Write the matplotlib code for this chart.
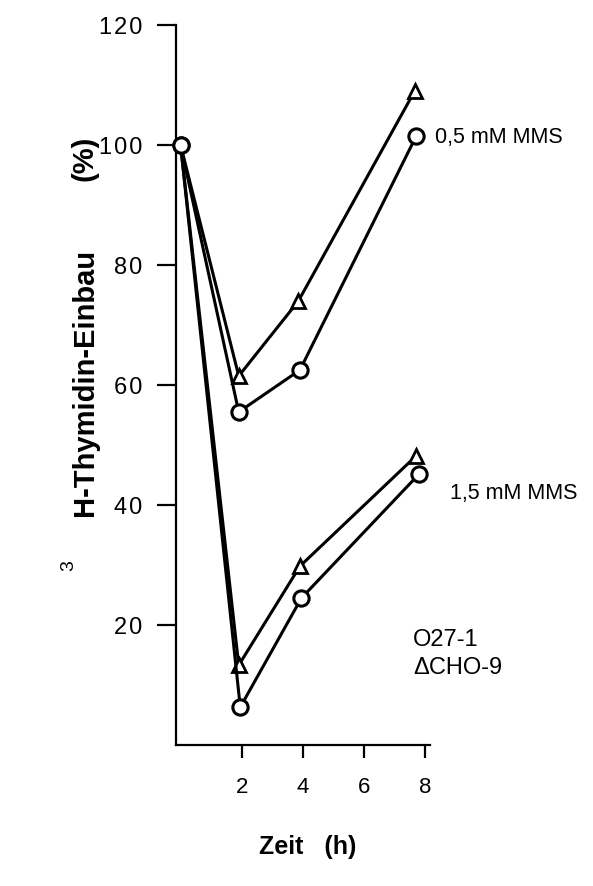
import matplotlib
matplotlib.use("Agg")
import matplotlib.pyplot as plt

plt.rcParams['font.family'] = ['Liberation Sans', 'DejaVu Sans']

# time (h) and 3H-thymidine incorporation (%)
t_low_circ = [0, 1.9, 3.9, 7.7]
v_low_circ = [100, 55.5, 62.5, 101.5]
t_low_tri = [0, 1.9, 3.85, 7.65]
v_low_tri = [100, 61.5, 74, 109]

t_high_circ = [0, 1.95, 3.95, 7.8]
v_high_circ = [100, 6.3, 24.5, 45.2]
t_high_tri = [0, 1.9, 3.9, 7.7]
v_high_tri = [100, 13.3, 29.8, 48.2]

xticks = [2, 4, 6, 8]
yticks = [20, 40, 60, 80, 100, 120]

fig = plt.figure(figsize=(5.93, 8.86), dpi=100)
ax = fig.add_axes([176/593, 141/886, 254/593, 720/886])

lw = 2.2
for t, v in [(t_low_circ, v_low_circ), (t_high_circ, v_high_circ)]:
    ax.plot(t, v, color='black', lw=lw, marker='o', ms=11, mfc='white',
            mec='black', mew=2.2, clip_on=False, zorder=3)
for t, v in [(t_low_tri, v_low_tri), (t_high_tri, v_high_tri)]:
    ax.plot(t, v, color='black', lw=lw, marker='^', ms=10, mfc='white',
            mec='black', mew=2.0, markevery=[1, 2, 3], clip_on=False, zorder=2)

ax.set_xlim(-0.15, 8.15)
ax.set_ylim(0, 120)
ax.spines['top'].set_visible(False)
ax.spines['right'].set_visible(False)
ax.spines['left'].set_linewidth(1.6)
ax.spines['bottom'].set_linewidth(1.6)

ax.set_xticks(xticks)
ax.set_xticklabels([str(x) for x in xticks], fontsize=16)
ax.set_yticks(yticks)
ax.set_yticklabels(['\u200a'.join(str(y)) for y in yticks], fontsize=17)
ax.tick_params(axis='x', direction='out', length=9, width=1.6, pad=14)
ax.tick_params(axis='y', direction='out', length=14, width=1.6, pad=10)

fig.text(85/593, 1 - 382/886, 'H-Thymidin-Einbau', rotation=90,
         ha='center', va='center', fontsize=21, fontweight='bold')
fig.text(85/593, 1 - 158/886, '(%)', rotation=90,
         ha='center', va='center', fontsize=21, fontweight='bold')
fig.text(69/593, 1 - 566/886, '3', rotation=90, ha='center', va='center',
         fontsize=14)
fig.text(308/593, 1 - 847/886, 'Zeit   (h)', ha='center', va='center',
         fontsize=18, fontweight='bold')

fig.text(435/593, 1 - 137/886, '0,5 mM MMS', ha='left', va='center', fontsize=15.5)
fig.text(450/593, 1 - 493/886, '1,5 mM MMS', ha='left', va='center', fontsize=15.5)
fig.text(413/593, 1 - 640/886, 'O27-1', ha='left', va='center', fontsize=17)
fig.text(413/593, 1 - 668/886, '\u0394CHO-9', ha='left', va='center', fontsize=17)

fig.savefig('out.png', dpi=100)
